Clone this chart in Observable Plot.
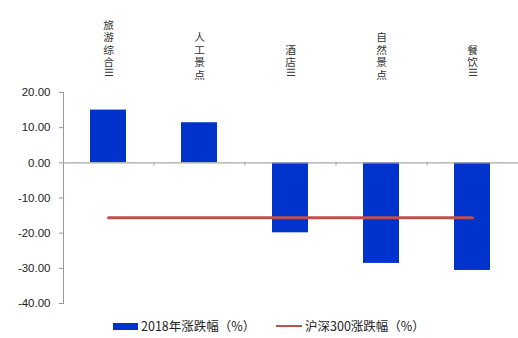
<!DOCTYPE html>
<html><head><meta charset="utf-8">
<script src="https://cdn.jsdelivr.net/npm/d3@7"></script>
<script src="https://cdn.jsdelivr.net/npm/@observablehq/plot@0.6"></script>
<style>
body{margin:0;background:#fff;font-family:"Noto Sans CJK SC",sans-serif;}
#legend{height:28px;position:relative;font-size:12.5px;color:#222;}
.item{position:absolute;top:8px;display:flex;align-items:center;line-height:16px;}
</style></head><body>
<div id="chart"></div>
<div id="legend"></div>
<script>
const categories = ["旅游综合Ⅲ","人工景点","酒店Ⅲ","自然景点","餐饮Ⅲ"];
const change2018 = [15.0, 11.4, -19.9, -28.6, -30.6];
const hs300Change = -15.6;
const yTicks = [20,10,0,-10,-20,-30,-40];
const seriesNames = ["2018年涨跌幅（%）","沪深300涨跌幅（%）"];
const colors = ["#0033CC","#C0504D"];

const rows = categories.map((c,i)=>({cat:c, v:change2018[i], hs:hs300Change}));
const SUF = "Ⅲ";
const hasSuf = c => c.endsWith(SUF);
const mainPart = c => hasSuf(c) ? c.slice(0, -SUF.length) : c;
const LINE = 12.5, GAP = 14, FS = 10.7;
const labelStyle = {fontSize: FS, fill: "#333", fontFamily: "Noto Sans CJK SC", frameAnchor: "top", textAnchor: "middle"};

const W = 518, ML = 63, MR = 0, PI = 0.6, PO = 0.3;
const step = (W - ML - MR) / (categories.length - PI + 2 * PO);

const plot = Plot.plot({
  width: W, height: 310,
  marginLeft: ML, marginRight: MR, marginTop: 92, marginBottom: 7,
  x: {domain: categories, paddingInner: PI, paddingOuter: PO, axis: null},
  y: {domain: [-40, 20], axis: null},
  marks: [
    Plot.frame({anchor: "left", stroke: "#999"}),
    Plot.axisY({ticks: yTicks, tickFormat: d => d.toFixed(2), tickSize: 4, tickPadding: 9, stroke: "#999",
      fontSize: 11.5, fontFamily: "Liberation Sans", fill: "#222"}),
    Plot.barY(rows, {x: "cat", y: "v", fill: colors[0], inset: 0}),
    Plot.ruleY([0], {stroke: "#aaa", strokeWidth: 1.2}),
    Plot.ruleX(categories.slice(1), {x: d => d, y1: 0, y2: -0.9, dx: -step / 2, stroke: "#aaa", strokeWidth: 1.2}),
    Plot.line(rows, {x: "cat", y: "hs", stroke: colors[1], strokeWidth: 3}),
    Plot.text(categories.filter(c => !hasSuf(c)), {...labelStyle, x: d => d, text: d => [...d].join("\n"),
      dy: -GAP, lineAnchor: "bottom", lineHeight: LINE/FS}),
    Plot.text(categories.filter(hasSuf), {...labelStyle, x: d => d, text: d => [...mainPart(d)].join("\n"),
      dy: -GAP - LINE, lineAnchor: "bottom", lineHeight: LINE/FS}),
    Plot.text(categories.filter(hasSuf), {...labelStyle, x: d => d, text: () => SUF, rotate: 90,
      lineAnchor: "middle", dy: -GAP - LINE/2})
  ]
});
document.getElementById("chart").append(plot);

const lg = d3.select("#legend");
const a = lg.append("div").attr("class","item").style("left","113px");
a.append("span").style("display","inline-block").style("width","25px").style("height","7px").style("background",colors[0]).style("margin-right","3px");
a.append("span").text(seriesNames[0]);
const b = lg.append("div").attr("class","item").style("left","276px");
b.append("span").style("display","inline-block").style("width","26px").style("height","2.5px").style("background",colors[1]).style("margin-right","3px");
b.append("span").text(seriesNames[1]);
</script>
</body></html>
